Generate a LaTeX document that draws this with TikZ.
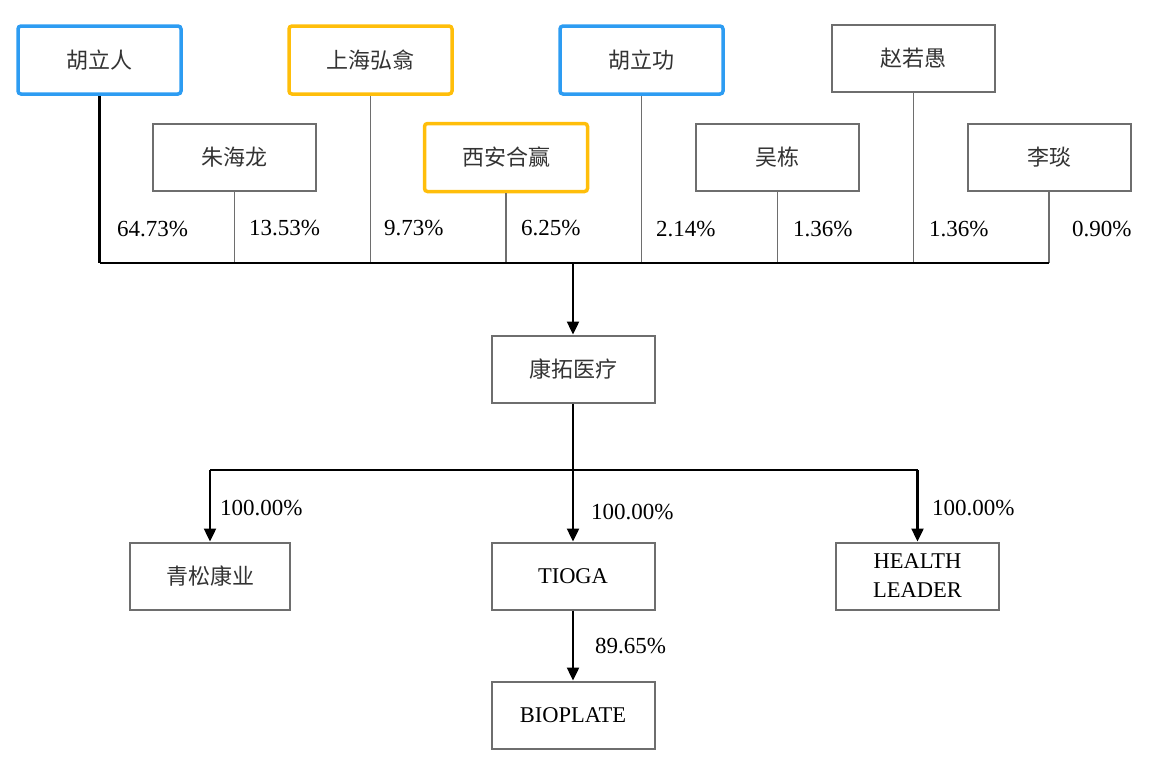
\documentclass[tikz,border=0pt]{standalone}
\usepackage{fontspec}
\setmainfont{Liberation Serif}
\newfontfamily\cjk{Noto Sans CJK SC}
\usetikzlibrary{arrows.meta,positioning}

\definecolor{boxgray}{HTML}{6E6E6E}
\definecolor{txtgray}{HTML}{333333}
\definecolor{hublue}{HTML}{2D9CF2}
\definecolor{fundgold}{HTML}{FFBE0A}

\tikzset{
  entity/.style={draw=boxgray, line width=2pt, minimum width=163pt, minimum height=67pt,
    inner sep=0pt, text=txtgray, font=\fontsize{22}{24}\selectfont\cjk},
  blueentity/.style={entity, draw=hublue, line width=3.5pt, rounded corners=3pt, minimum height=68pt},
  goldentity/.style={entity, draw=fundgold, line width=3.5pt, rounded corners=3pt, minimum height=68pt},
  company/.style={entity, text=black, font=\fontsize{22.5}{29}\selectfont, align=center},
  pct/.style={anchor=west, inner sep=0pt, text=black, font=\fontsize{23}{24}\selectfont},
  holder/.style={draw=boxgray, line width=1.5pt},
  owner/.style={draw=black, line width=2.4pt},
  flow/.style={owner, -{Triangle[length=13pt,width=12pt]}},
}

\begin{document}
\begin{tikzpicture}[x=1pt,y=-1pt]

    \useasboundingbox (0,0) rectangle (1154,769);

    % shareholders
    \node[blueentity] (huliren) at (99.5,60) {胡立人};
    \node[goldentity] (shhongxi) at (370.5,60) {上海弘翕};
    \node[blueentity] (huligong) at (641.5,60) {胡立功};
    \node[entity] (zhaoruoyu) at (913.5,58.5) {赵若愚};
    \node[entity] (zhuhailong) at (234.5,157.5) {朱海龙};
    \node[goldentity] (xaheying) at (506,157.5) {西安合赢};
    \node[entity] (wudong) at (777.5,157.5) {吴栋};
    \node[entity] (liyan) at (1049,157.5) {李琰};

    % companies
    \node[entity] (kangtuo) at (573,369) {康拓医疗};
    \node[entity, minimum width=160pt] (qingsong) at (210,576) {青松康业};
    \node[company] (tioga) at (573,576) {TIOGA};
    \node[company] (health) at (917.5,576) {HEALTH\\LEADER};
    \node[company] (bioplate) at (573,715) {BIOPLATE};

    \coordinate (bus) at (0,263);
    \coordinate (split) at (0,470);

    % holdings into the bus
    \draw[owner] (huliren.south) -- (huliren.south |- bus);
    \draw[holder] (zhuhailong.south) -- (zhuhailong.south |- bus);
    \draw[holder] (shhongxi.south) -- (shhongxi.south |- bus);
    \draw[holder] (xaheying.south) -- (xaheying.south |- bus);
    \draw[holder] (huligong.south) -- (huligong.south |- bus);
    \draw[holder] (wudong.south) -- (wudong.south |- bus);
    \draw[holder] (zhaoruoyu.south) -- (zhaoruoyu.south |- bus);
    \draw[holder] (liyan.south) -- (liyan.south |- bus);
    \draw[owner] (huliren.south |- bus) -- (liyan.south |- bus);
    \draw[flow] (kangtuo.north |- bus) -- (kangtuo.north);

    \node[pct] (phuliren) at (117,229) {64.73\%};
    \node[pct] (pzhuhailong) at (249,228) {13.53\%};
    \node[pct] (pshhongxi) at (384,228) {9.73\%};
    \node[pct] (pxaheying) at (521,228) {6.25\%};
    \node[pct] (phuligong) at (656,229) {2.14\%};
    \node[pct] (pwudong) at (793,229) {1.36\%};
    \node[pct] (pzhaoruoyu) at (929,229) {1.36\%};
    \node[pct] (pliyan) at (1072,229) {0.90\%};

    % subsidiaries
    \draw[owner] (kangtuo.south) -- (kangtuo.south |- split);
    \draw[owner] (qingsong.north |- split) -- (health.north |- split);
    \draw[flow] (qingsong.north |- split) -- (qingsong.north);
    \draw[flow] (tioga.north |- split) -- (tioga.north);
    \draw[flow] (health.north |- split) -- (health.north);
    \draw[flow] (tioga.south) -- (bioplate.north);

    \node[pct] (pqingsong) at (220,508) {100.00\%};
    \node[pct] (ptioga) at (591,512) {100.00\%};
    \node[pct] (phealth) at (932,508) {100.00\%};
    \node[pct] (pbioplate) at (595,646) {89.65\%};

\end{tikzpicture}
\end{document}
